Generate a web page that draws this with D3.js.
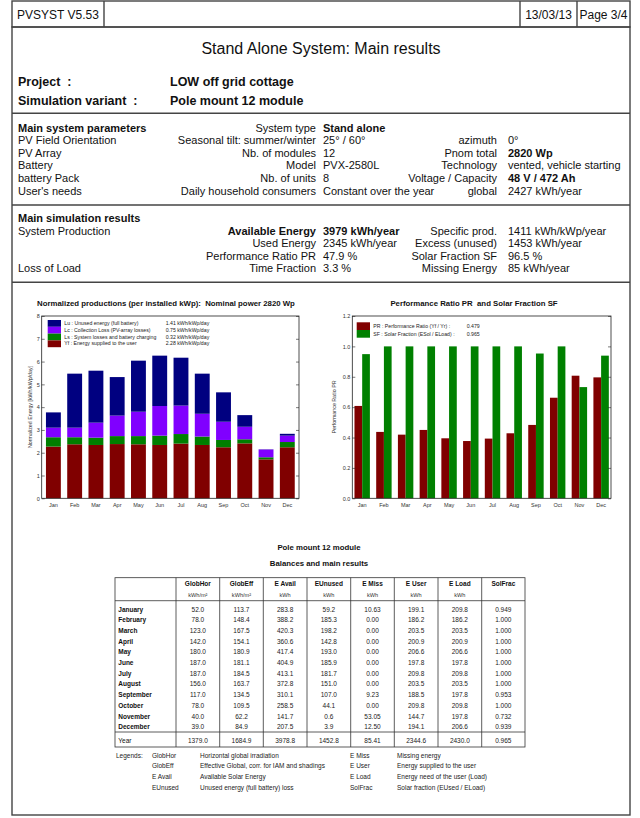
<!DOCTYPE html>
<html lang="en">
<head>
<meta charset="utf-8">
<title>Stand Alone System: Main results</title>
<script src="https://d3js.org/d3.v7.min.js"></script>
<style>
body { margin: 0; background: #fff; }
svg { display: block; font-family: "Liberation Sans", Arial, sans-serif; }
svg text { white-space: pre; }
.frame { fill: none; stroke: #444; stroke-width: 1.4px; }
.thin { stroke: #333; stroke-width: 0.8px; fill: none; }
.axis text { font-size: 5.5px; fill: #333; }
</style>
</head>
<body>
<svg width="640" height="818"></svg>
<script>

// ---- data ----
var months = ["Jan","Feb","Mar","Apr","May","Jun","Jul","Aug","Sep","Oct","Nov","Dec"];

// normalized productions, kWh/kWp/day
var yf = [2.27, 2.37, 2.34, 2.38, 2.37, 2.34, 2.40, 2.34, 2.24, 2.41, 1.71, 2.24];
var ls = [0.41, 0.31, 0.32, 0.35, 0.36, 0.41, 0.42, 0.37, 0.32, 0.18, 0.09, 0.23];
var lc = [0.42, 0.42, 0.66, 0.90, 1.07, 1.30, 1.25, 1.00, 0.80, 0.55, 0.34, 0.28];
var lu = [0.67, 2.37, 2.28, 1.69, 2.24, 2.21, 2.10, 1.76, 1.29, 0.51, 0.01, 0.08];
var normTicks = [0, 1, 2, 3, 4, 5, 6, 7, 8];

// performance ratio and solar fraction
var pr = [0.608, 0.437, 0.419, 0.450, 0.395, 0.377, 0.393, 0.428, 0.483, 0.662, 0.807, 0.796];
var sf = [0.949, 1.000, 1.000, 1.000, 1.000, 1.000, 1.000, 1.000, 0.953, 1.000, 0.732, 0.939];
var prTicks = [0, 0.2, 0.4, 0.6, 0.8, 1.0, 1.2];

// balances table
var monthNames = ["January","February","March","April","May","June","July","August","September","October","November","December"];
var globHor = ["52.0","78.0","123.0","142.0","180.0","187.0","187.0","156.0","117.0","78.0","40.0","39.0"];
var globEff = ["113.7","148.4","167.5","154.1","180.9","181.1","184.5","163.7","134.5","109.5","62.2","84.9"];
var eAvail  = ["283.8","388.2","420.3","360.6","417.4","404.9","413.1","372.8","310.1","258.5","141.7","207.5"];
var eUnused = ["59.2","185.3","198.2","142.8","193.0","185.9","181.7","151.0","107.0","44.1","0.6","3.9"];
var eMiss   = ["10.63","0.00","0.00","0.00","0.00","0.00","0.00","0.00","9.23","0.00","53.05","12.50"];
var eUser   = ["199.1","186.2","203.5","200.9","206.6","197.8","209.8","203.5","188.5","209.8","144.7","194.1"];
var eLoad   = ["209.8","186.2","203.5","200.9","206.6","197.8","209.8","203.5","197.8","209.8","197.8","206.6"];
var solFrac = ["0.949","1.000","1.000","1.000","1.000","1.000","1.000","1.000","0.953","1.000","0.732","0.939"];
var yearRow = ["1379.0","1684.9","3978.8","1452.8","85.41","2344.6","2430.0","0.965"];
var colNames = ["GlobHor","GlobEff","E Avail","EUnused","E Miss","E User","E Load","SolFrac"];
var colUnits = ["kWh/m²","kWh/m²","kWh","kWh","kWh","kWh","kWh",""];

var svg = d3.select("svg");

// ---- page frame ----
svg.append("rect").attr("class", "frame").attr("x", 12).attr("y", 1).attr("width", 618).attr("height", 26);
svg.append("rect").attr("class", "frame").attr("x", 12).attr("y", 27).attr("width", 618).attr("height", 788);
[104, 520, 577].forEach(function(x) {
  svg.append("line").attr("class", "frame").attr("x1", x).attr("x2", x).attr("y1", 1).attr("y2", 27);
});
[113.3, 205, 282.3].forEach(function(y) {
  svg.append("line").attr("class", "frame").attr("x1", 12).attr("x2", 630).attr("y1", y).attr("y2", y);
});

function txt(x, y, s, size, opts) {
  opts = opts || {};
  return svg.append("text")
    .attr("x", x).attr("y", y)
    .attr("font-size", size)
    .attr("font-weight", opts.bold ? "bold" : null)
    .attr("text-anchor", opts.anchor || "start")
    .attr("fill", opts.fill || "#111")
    .text(s);
}

txt(17, 18.5, "PVSYST V5.53", 12);
txt(548.5, 18.5, "13/03/13", 12, {anchor: "middle"});
txt(603.5, 18.5, "Page 3/4", 12, {anchor: "middle"});
txt(321, 54, "Stand Alone System: Main results", 16, {anchor: "middle"});
txt(18, 85.5, "Project  :", 12.5, {bold: true});
txt(170, 85.5, "LOW off grid cottage", 12.5, {bold: true});
txt(18, 105, "Simulation variant  :", 12.5, {bold: true});
txt(170, 105, "Pole mount 12 module", 12.5, {bold: true});

// ---- main system parameters ----
var pCol1 = ["Main system parameters","PV Field Orientation","PV Array","Battery","battery Pack","User's needs"];
var pCol2 = ["System type","Seasonal tilt: summer/winter","Nb. of modules","Model","Nb. of units","Daily household consumers"];
var pCol3 = ["Stand alone","25° / 60°","12","PVX-2580L","8","Constant over the year"];
var pCol4 = ["","azimuth","Pnom total","Technology","Voltage / Capacity","global"];
var pCol5 = ["","0°","2820 Wp","vented, vehicle starting","48 V / 472 Ah","2427 kWh/year"];
var pBold3 = [true, false, false, false, false, false];
var pBold5 = [false, false, true, false, true, false];

pCol1.forEach(function(s, i) {
  var y = 131.5 + i * 12.6;
  txt(18, y, s, 11, {bold: i === 0});
  txt(316, y, pCol2[i], 11, {anchor: "end"});
  txt(323, y, pCol3[i], 11, {bold: pBold3[i]});
  txt(497, y, pCol4[i], 11, {anchor: "end"});
  txt(508, y, pCol5[i], 11, {bold: pBold5[i]});
});

// ---- main simulation results ----
var rCol1 = ["Main simulation results","System Production","","","Loss of Load"];
var rCol2 = ["","Available Energy","Used Energy","Performance Ratio PR","Time Fraction"];
var rCol3 = ["","3979 kWh/year","2345 kWh/year","47.9 %","3.3 %"];
var rCol4 = ["","Specific prod.","Excess (unused)","Solar Fraction SF","Missing Energy"];
var rCol5 = ["","1411 kWh/kWp/year","1453 kWh/year","96.5 %","85 kWh/year"];

rCol1.forEach(function(s, i) {
  var y = 222.3 + i * 12.4;
  txt(18, y, s, 11, {bold: i === 0});
  txt(316, y, rCol2[i], 11, {anchor: "end", bold: i === 1});
  txt(323, y, rCol3[i], 11, {bold: i === 1});
  txt(497, y, rCol4[i], 11, {anchor: "end"});
  txt(508, y, rCol5[i], 11);
});

// ---- chart helpers ----
function frameAxes(g, x0, x1, y0, y1, yScale, ticks, fmt) {
  g.append("rect").attr("x", x0).attr("y", y0).attr("width", x1 - x0).attr("height", y1 - y0)
    .attr("fill", "none").attr("stroke", "#222").attr("stroke-width", 0.8);
  var left = g.append("g").attr("class", "axis").attr("transform", "translate(" + x0 + ",0)")
    .call(d3.axisLeft(yScale).tickValues(ticks).tickSize(-3).tickPadding(2).tickFormat(fmt));
  left.select(".domain").remove();
  left.selectAll("line").attr("stroke", "#222").attr("stroke-width", 0.6);
  var right = g.append("g").attr("class", "axis").attr("transform", "translate(" + x1 + ",0)")
    .call(d3.axisRight(yScale).tickValues(ticks).tickSize(-3).tickFormat(""));
  right.select(".domain").remove();
  right.selectAll("line").attr("stroke", "#222").attr("stroke-width", 0.6);
}

function monthAxis(g, xScale, y1) {
  var ax = g.append("g").attr("class", "axis").attr("transform", "translate(0," + y1 + ")")
    .call(d3.axisBottom(xScale).tickSize(0).tickPadding(5));
  ax.select(".domain").remove();
}

// ---- left chart: normalized productions ----
var L = {x0: 41.7, x1: 299, y0: 316, y1: 498.3};
var gL = svg.append("g");

var xL = d3.scaleBand().domain(months).range([L.x0, L.x1]).paddingInner(0.3).paddingOuter(0.2);
var yL = d3.scaleLinear().domain([0, 8]).range([L.y1, L.y0]);

var normData = months.map(function(m, i) {
  return {month: m, yf: yf[i], ls: ls[i], lc: lc[i], lu: lu[i]};
});
var keys = ["yf", "ls", "lc", "lu"];
var stackColor = {yf: "#800000", ls: "#007f00", lc: "#8000ff", lu: "#000080"};
var stacked = d3.stack().keys(keys)(normData);

gL.selectAll("g.layer").data(stacked).join("g")
  .attr("class", "layer")
  .attr("fill", function(d) { return stackColor[d.key]; })
  .selectAll("rect").data(function(d) { return d; }).join("rect")
  .attr("x", function(d) { return xL(d.data.month); })
  .attr("width", xL.bandwidth())
  .attr("y", function(d) { return yL(d[1]); })
  .attr("height", function(d) { return yL(d[0]) - yL(d[1]); });

frameAxes(gL, L.x0, L.x1, L.y0, L.y1, yL, normTicks, d3.format("d"));
monthAxis(gL, xL, L.y1);

gL.append("text").attr("x", 166).attr("y", 306).attr("text-anchor", "middle")
  .attr("font-size", 7.8).attr("font-weight", "bold").attr("fill", "#111")
  .text("Normalized productions (per installed kWp):  Nominal power 2820 Wp");
gL.append("text").attr("transform", "translate(31.5,407) rotate(-90)").attr("text-anchor", "middle")
  .attr("font-size", 5.3).attr("fill", "#333").text("Normalized Energy [kWh/kWp/day]");

var legL = [
  {key: "lu", label: "Lu : Unused energy (full battery)", value: "1.41 kWh/kWp/day"},
  {key: "lc", label: "Lc : Collection Loss (PV-array losses)", value: "0.75 kWh/kWp/day"},
  {key: "ls", label: "Ls : System losses and battery charging", value: "0.32 kWh/kWp/day"},
  {key: "yf", label: "Yf : Energy supplied to the user", value: "2.28 kWh/kWp/day"}
];
legL.forEach(function(d, i) {
  var y = 320 + i * 6.8;
  gL.append("rect").attr("x", 47.7).attr("y", y).attr("width", 13.3).attr("height", 6.8).attr("fill", stackColor[d.key]);
  gL.append("text").attr("x", 64.3).attr("y", y + 5).attr("font-size", 5.2).attr("fill", "#222").text(d.label);
  gL.append("text").attr("x", 165.7).attr("y", y + 5).attr("font-size", 5.2).attr("fill", "#222").text(d.value);
});

// ---- right chart: performance ratio and solar fraction ----
var R = {x0: 352.3, x1: 611, y0: 316, y1: 498.3};
var gR = svg.append("g");

var xR = d3.scaleBand().domain(months).range([R.x0, R.x1]).paddingInner(0.29).paddingOuter(0.1);
var xSub = d3.scaleBand().domain(["pr", "sf"]).range([0, xR.bandwidth()]);
var yR = d3.scaleLinear().domain([0, 1.2]).range([R.y1, R.y0]);

var ratioData = months.map(function(m, i) { return {month: m, pr: pr[i], sf: sf[i]}; });
var ratioColor = {pr: "#800000", sf: "#008000"};

gR.selectAll("g.month").data(ratioData).join("g")
  .attr("class", "month")
  .attr("transform", function(d) { return "translate(" + xR(d.month) + ",0)"; })
  .selectAll("rect").data(function(d) { return ["pr", "sf"].map(function(k) { return {key: k, value: d[k]}; }); })
  .join("rect")
  .attr("x", function(d) { return xSub(d.key); })
  .attr("width", xSub.bandwidth())
  .attr("y", function(d) { return yR(d.value); })
  .attr("height", function(d) { return yR(0) - yR(d.value); })
  .attr("fill", function(d) { return ratioColor[d.key]; });

frameAxes(gR, R.x0, R.x1, R.y0, R.y1, yR, prTicks, d3.format(".1f"));
monthAxis(gR, xR, R.y1);

gR.append("text").attr("x", 474).attr("y", 306).attr("text-anchor", "middle")
  .attr("font-size", 7.8).attr("font-weight", "bold").attr("fill", "#111")
  .text("Performance Ratio PR  and Solar Fraction SF");
gR.append("text").attr("transform", "translate(336,407) rotate(-90)").attr("text-anchor", "middle")
  .attr("font-size", 5.3).attr("fill", "#333").text("Performance Ratio PR");

var legR = [
  {key: "pr", label: "PR : Performance Ratio (Yf / Yr) :", value: "0.479"},
  {key: "sf", label: "SF : Solar Fraction (ESol / ELoad) :", value: "0.965"}
];
legR.forEach(function(d, i) {
  var y = 322.3 + i * 7.7;
  gR.append("rect").attr("x", 356.7).attr("y", y).attr("width", 13.3).attr("height", 7.7).attr("fill", ratioColor[d.key]);
  gR.append("text").attr("x", 373.3).attr("y", y + 5.5).attr("font-size", 5.2).attr("fill", "#222").text(d.label);
  gR.append("text").attr("x", 466.7).attr("y", y + 5.5).attr("font-size", 5.2).attr("fill", "#222").text(d.value);
});

// ---- balances table ----
txt(319, 550, "Pole mount 12 module", 7.8, {bold: true, anchor: "middle"});
txt(319, 565.5, "Balances and main results", 7.8, {bold: true, anchor: "middle"});

var T = {x0: 115, x1: 525, y0: 577.7, y1: 747, head: 600.7, foot: 732};
var colEdges = [176, 219.7, 263.3, 307, 350.7, 394.3, 438, 481.7, 525];
var tg = svg.append("g");
tg.append("rect").attr("class", "thin").attr("x", T.x0).attr("y", T.y0)
  .attr("width", T.x1 - T.x0).attr("height", T.y1 - T.y0);
[T.head, T.foot].forEach(function(y) {
  tg.append("line").attr("class", "thin").attr("x1", T.x0).attr("x2", T.x1).attr("y1", y).attr("y2", y);
});
colEdges.slice(0, -1).forEach(function(x) {
  tg.append("line").attr("class", "thin").attr("x1", x).attr("x2", x).attr("y1", T.y0).attr("y2", T.y1);
});

var cols = [globHor, globEff, eAvail, eUnused, eMiss, eUser, eLoad, solFrac];
colNames.forEach(function(name, j) {
  var cx = (colEdges[j] + colEdges[j + 1]) / 2;
  txt(cx, 586, name, 6.5, {bold: true, anchor: "middle"});
  txt(cx, 597, colUnits[j], 5.6, {anchor: "middle", fill: "#333"});
});

var rowY = d3.scaleLinear().domain([0, 11]).range([611.5, 729.2]);
monthNames.forEach(function(name, i) {
  var y = rowY(i);
  txt(118.3, y, name, 6.5, {bold: true});
  cols.forEach(function(col, j) {
    txt((colEdges[j] + colEdges[j + 1]) / 2, y, col[i], 6.5, {anchor: "middle", fill: "#222"});
  });
});
txt(118.3, 743.2, "Year", 6.5);
yearRow.forEach(function(v, j) {
  txt((colEdges[j] + colEdges[j + 1]) / 2, 743.2, v, 6.5, {anchor: "middle", fill: "#222"});
});

// ---- legend of the table ----
var legCodes1 = ["GlobHor","GlobEff","E Avail","EUnused"];
var legDesc1 = ["Horizontal global irradiation","Effective Global, corr. for IAM and shadings","Available Solar Energy","Unused energy (full battery) loss"];
var legCodes2 = ["E Miss","E User","E Load","SolFrac"];
var legDesc2 = ["Missing energy","Energy supplied to the user","Energy need of the user (Load)","Solar fraction (EUsed / ELoad)"];

txt(116, 757.5, "Legends:", 6.5, {fill: "#222"});
legCodes1.forEach(function(c, i) {
  var y = 757.5 + i * 10.9;
  txt(152, y, c, 6.5, {fill: "#222"});
  txt(200, y, legDesc1[i], 6.5, {fill: "#222"});
  txt(350, y, legCodes2[i], 6.5, {fill: "#222"});
  txt(397, y, legDesc2[i], 6.5, {fill: "#222"});
});

</script>
</body>
</html>
